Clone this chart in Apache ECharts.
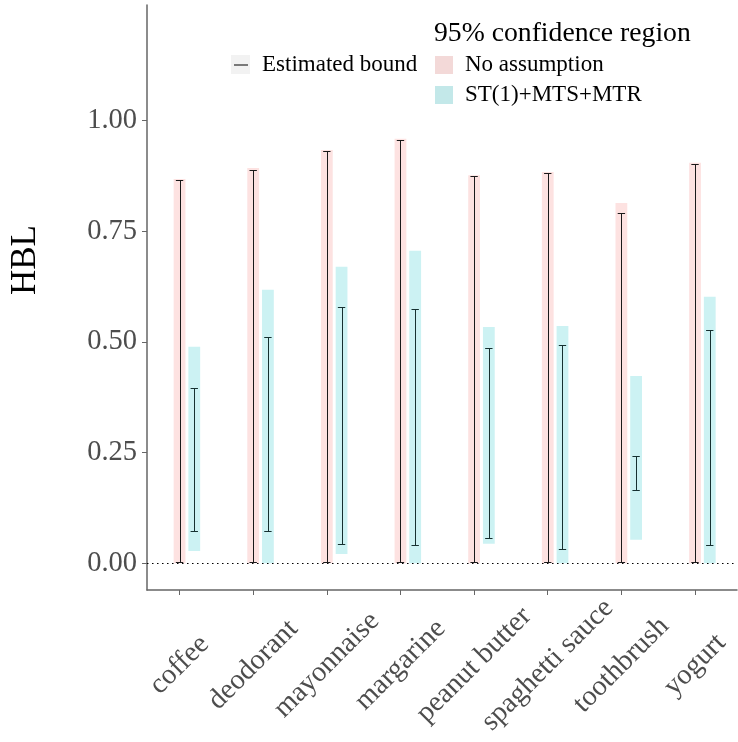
<!DOCTYPE html>
<html>
<head>
<meta charset="utf-8">
<script src="https://cdn.jsdelivr.net/npm/echarts@6/dist/echarts.min.js"></script>
<style>
html,body{margin:0;padding:0;background:#fff;}
#chart{width:738px;height:742px;}
</style>
</head>
<body>
<div id="chart"></div>
<script>
const categories = ['coffee','deodorant','mayonnaise','margarine','peanut butter','spaghetti sauce','toothbrush','yogurt'];
// 95% confidence region, no assumption
const noAssumpLow  = [0, 0, 0, 0, 0, 0, 0, 0];
const noAssumpHigh = [0.868, 0.893, 0.934, 0.959, 0.877, 0.884, 0.814, 0.905];
// estimated bound, no assumption
const noAssumpEstLow  = [0, 0, 0, 0, 0, 0, 0, 0];
const noAssumpEstHigh = [0.865, 0.888, 0.932, 0.956, 0.876, 0.881, 0.791, 0.903];
// 95% confidence region, ST(1)+MTS+MTR
const stLow  = [0.028, 0, 0.021, 0, 0.044, 0, 0.053, 0];
const stHigh = [0.489, 0.618, 0.670, 0.706, 0.534, 0.536, 0.423, 0.602];
// estimated bound, ST(1)+MTS+MTR
const stEstLow  = [0.070, 0.071, 0.042, 0.038, 0.056, 0.029, 0.163, 0.038];
const stEstHigh = [0.395, 0.512, 0.579, 0.574, 0.486, 0.493, 0.242, 0.526];
const yTicks = [0, 0.25, 0.5, 0.75, 1.0];

const FONT = '"Liberation Serif", "DejaVu Serif", serif';
const PINK = '#FDE2E1';
const CYAN = '#CCF2F3';
const BAR_W = 0.16;
const CAP_W = 0.1;
const OFF_PINK = 0;
const OFF_CYAN = 0.2;

const xPos = categories.map((c, i) => i + 1);

function rangeData(lo, hi) { return xPos.map((x, i) => [x, lo[i], hi[i]]); }

function barRenderer(offset, fill) {
  return function (params, api) {
    const x = api.value(0) + offset;
    const p1 = api.coord([x - BAR_W / 2, api.value(2)]);
    const p2 = api.coord([x + BAR_W / 2, api.value(1)]);
    return { type: 'rect', shape: { x: p1[0], y: p1[1], width: p2[0] - p1[0], height: p2[1] - p1[1] }, style: { fill: fill } };
  };
}
function errRenderer(offset, color) {
  return function (params, api) {
    const x = api.value(0) + offset;
    const top = api.coord([x, api.value(2)]);
    const bot = api.coord([x, api.value(1)]);
    const l = api.coord([x - CAP_W / 2, api.value(2)])[0];
    const r = api.coord([x + CAP_W / 2, api.value(2)])[0];
    const cx = Math.round(top[0]) + 0.5;
    const ty = Math.round(top[1]) + 0.5;
    const by = Math.round(bot[1]) - 0.5;
    const st = { stroke: color, lineWidth: 1 };
    return { type: 'group', children: [
      { type: 'line', shape: { x1: cx, y1: ty, x2: cx, y2: by }, style: st },
      { type: 'line', shape: { x1: l, y1: ty, x2: r, y2: ty }, style: st },
      { type: 'line', shape: { x1: l, y1: by, x2: r, y2: by }, style: st }
    ]};
  };
}

const chart = echarts.init(document.getElementById('chart'), null, { renderer: 'canvas' });
const axisColor = '#666';
chart.setOption({
  animation: false,
  backgroundColor: '#fff',
  grid: { left: 147, right: 1, top: 5, bottom: 152, containLabel: false, outerBoundsMode: 'none' },
  xAxis: {
    type: 'value', min: 0.558, max: 8.57,
    splitLine: { show: false },
    axisLine: { show: true, onZero: false, lineStyle: { color: axisColor, width: 1.5 } },
    axisTick: { show: true, length: 5, customValues: xPos, lineStyle: { color: axisColor, width: 1 } },
    axisLabel: {
      customValues: xPos,
      formatter: v => categories[Math.round(v) - 1],
      rotate: 45, margin: 75, hideOverlap: false,
      align: 'center', verticalAlign: 'middle',
      fontFamily: FONT, fontSize: 28.5, color: '#4d4d4d'
    }
  },
  yAxis: {
    type: 'value', min: -0.0603, max: 1.2614,
    splitLine: { show: false },
    axisLine: { show: true, onZero: false, lineStyle: { color: axisColor, width: 1.5 } },
    axisTick: { show: true, length: 5, customValues: yTicks, lineStyle: { color: axisColor, width: 1 } },
    axisLabel: {
      customValues: yTicks,
      formatter: v => v.toFixed(2),
      margin: 10, fontFamily: FONT, fontSize: 28.5, color: '#4d4d4d'
    }
  },
  series: [
    { type: 'custom', name: 'No assumption', renderItem: barRenderer(OFF_PINK, PINK), data: rangeData(noAssumpLow, noAssumpHigh), silent: true,
      markLine: { silent: true, symbol: ['none', 'none'], label: { show: false },
        lineStyle: { type: [1.5, 3.5], color: '#000', width: 1 }, data: [{ yAxis: 0 }] } },
    { type: 'custom', name: 'ST(1)+MTS+MTR', renderItem: barRenderer(OFF_CYAN, CYAN), data: rangeData(stLow, stHigh), silent: true },
    { type: 'custom', name: 'Estimated bound (no assumption)', renderItem: errRenderer(OFF_PINK, '#1a1a1a'), data: rangeData(noAssumpEstLow, noAssumpEstHigh), silent: true, z: 5 },
    { type: 'custom', name: 'Estimated bound (ST)', renderItem: errRenderer(OFF_CYAN, '#163030'), data: rangeData(stEstLow, stEstHigh), silent: true, z: 5 }
  ],
  graphic: [
    { type: 'text', x: 26, y: 260, rotation: Math.PI / 2,
      style: { text: 'HBL', font: '35px ' + FONT, fill: '#000', align: 'center', verticalAlign: 'middle' } },
    // legend: estimated bound
    { type: 'rect', shape: { x: 231, y: 55, width: 19, height: 19 }, style: { fill: '#F2F2F2' } },
    { type: 'line', shape: { x1: 234, y1: 65, x2: 248, y2: 65 }, style: { stroke: '#000', lineWidth: 1 } },
    { type: 'text', x: 262, y: 65, style: { text: 'Estimated bound', font: '23px ' + FONT, fill: '#000', align: 'left', verticalAlign: 'middle' } },
    // legend: confidence region
    { type: 'text', x: 434, y: 34, style: { text: '95% confidence region', font: '27.7px ' + FONT, fill: '#000', align: 'left', verticalAlign: 'middle' } },
    { type: 'rect', shape: { x: 435, y: 56, width: 18, height: 18 }, style: { fill: '#F3D9D8' } },
    { type: 'text', x: 465, y: 65, style: { text: 'No assumption', font: '23px ' + FONT, fill: '#000', align: 'left', verticalAlign: 'middle' } },
    { type: 'rect', shape: { x: 435, y: 86, width: 18, height: 18 }, style: { fill: '#C3E8E9' } },
    { type: 'text', x: 465, y: 95, style: { text: 'ST(1)+MTS+MTR', font: '23px ' + FONT, fill: '#000', align: 'left', verticalAlign: 'middle' } }
  ]
});
</script>
</body>
</html>
